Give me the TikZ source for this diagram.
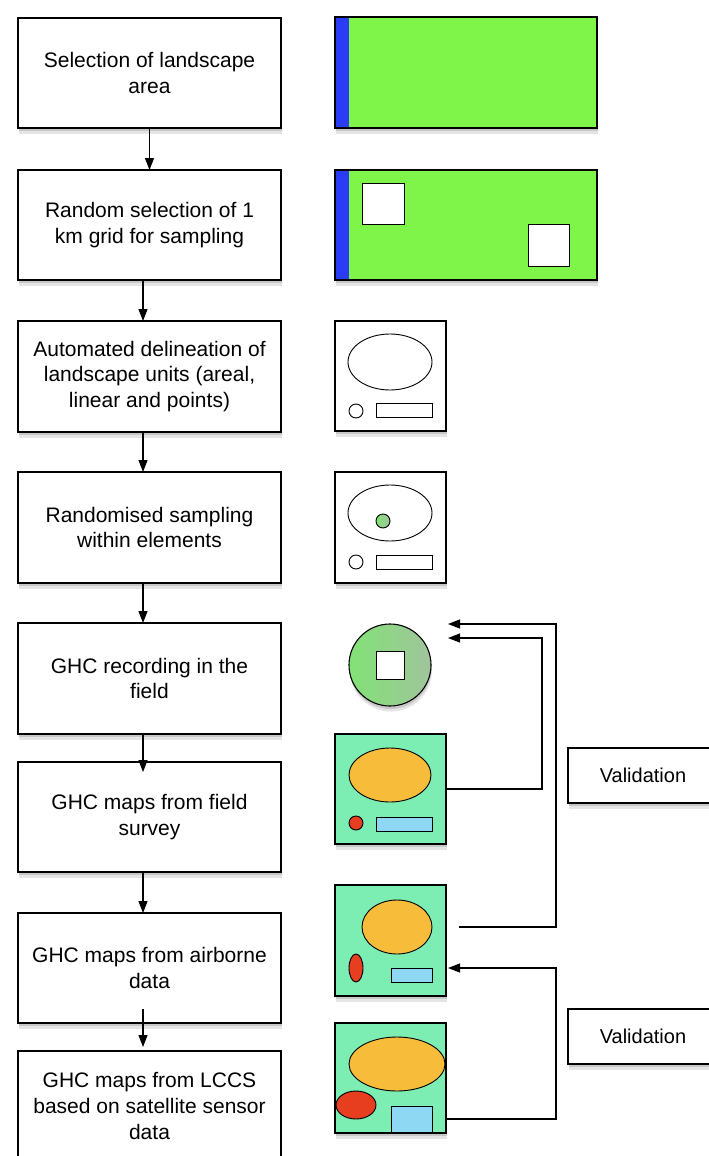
\documentclass[tikz,border=0pt]{standalone}
\usepackage{fontspec}
\setmainfont{Liberation Sans}
\usetikzlibrary{arrows.meta}
\definecolor{lime}{RGB}{126,245,72}
\definecolor{stripblue}{RGB}{42,60,245}
\definecolor{aqua}{RGB}{124,238,180}
\definecolor{orng}{RGB}{246,188,58}
\definecolor{redd}{RGB}{230,62,30}
\definecolor{lblue}{RGB}{142,216,244}
\definecolor{greyg}{RGB}{160,196,156}
\definecolor{leafg}{RGB}{130,226,118}
\tikzset{
  shad/.style={
    preaction={draw=none,fill=black!10,transform canvas={xshift=1pt,yshift=-5.5pt}},
    preaction={draw=none,fill=black!22,transform canvas={xshift=0.5pt,yshift=-3pt}}},
  stepbox/.style={draw,line width=1.1pt,fill=white,shad,minimum width=263pt,
    minimum height=110pt,align=center,outer sep=0pt,inner sep=0pt,
    font=\fontsize{21}{25.7}\selectfont},
  valbox/.style={draw,line width=1.1pt,fill=white,shad,minimum width=150pt,
    minimum height=55pt,outer sep=0pt,font=\fontsize{20}{24}\selectfont},
  icon/.style={draw,line width=1.1pt,shad,outer sep=0pt,inner sep=0pt},
  thin/.style={line width=0.9pt},
  arr/.style={line width=1.1pt,-{Triangle[length=12pt,width=9pt]}},
}
\begin{document}
\begin{tikzpicture}[x=1pt,y=-1pt]
\useasboundingbox (0,0) rectangle (709,1156);
\clip (0,0) rectangle (709,1156);
\fill[white] (0,0) rectangle (709,1156);

% left column
\node[stepbox] (b1) at (149.5,73) {Selection of landscape\\area};
\node[stepbox] (b2) at (149.5,225) {Random selection of 1\\km grid for sampling};
\node[stepbox,minimum height=111pt] (b3) at (149.5,376.5) {Automated delineation of\\landscape units (areal,\\linear and points)};
\node[stepbox,minimum height=111pt] (b4) at (149.5,527.5) {Randomised sampling\\within elements};
\node[stepbox,minimum height=111pt] (b5) at (149.5,678.5) {GHC recording in the\\field};
\node[stepbox] (b6) at (149.5,817) {GHC maps from field\\survey};
\node[stepbox] (b7) at (149.5,968) {GHC maps from airborne\\data};
\node[stepbox] (b8) at (149.5,1106) {GHC maps from LCCS\\based on satellite sensor\\data};

\draw[arr] (b1.south) -- (b2.north);
\draw[arr] ([xshift=-6.5pt]b2.south) -- ([xshift=-6.5pt]b3.north);
\draw[arr] ([xshift=-6.5pt]b3.south) -- ([xshift=-6.5pt]b4.north);
\draw[arr] ([xshift=-6.5pt]b4.south) -- ([xshift=-6.5pt]b5.north);
\draw[arr] ([xshift=-6.5pt]b5.south) -- ([xshift=-6.5pt,yshift=-10pt]b6.north);
\draw[arr] ([xshift=-6.5pt]b6.south) -- ([xshift=-6.5pt]b7.north);
\draw[arr] ([xshift=-6.5pt,yshift=14pt]b7.south) -- ([xshift=-6.5pt,yshift=4pt]b8.north);

% icon 1 and 2
\node[icon,fill=lime,minimum width=262pt,minimum height=111pt,
  path picture={\fill[stripblue] (path picture bounding box.north west) rectangle ([xshift=14pt]path picture bounding box.south west);}]
  (i1) at (466,72.5) {};
\node[icon,fill=lime,minimum width=262pt,minimum height=110pt,
  path picture={\fill[stripblue] (path picture bounding box.north west) rectangle ([xshift=14pt]path picture bounding box.south west);}]
  (i2) at (466,225) {};
\draw[thin,fill=white] (362,183) rectangle (404,224);
\draw[thin,fill=white] (528,224) rectangle (569,266);

% icon 3
\node[icon,fill=white,minimum width=111pt,minimum height=110pt] (i3) at (390.5,376) {};
\draw[thin] (390,362) ellipse [x radius=42pt,y radius=28pt];
\draw[thin] (356,411) circle [radius=7pt];
\draw[thin] (376,403) rectangle (432,417);

% icon 4
\node[icon,fill=white,minimum width=111pt,minimum height=111pt] (i4) at (390.5,527.5) {};
\draw[thin] (390,513) ellipse [x radius=42pt,y radius=28pt];
\draw[thin,left color=leafg,right color=greyg] (383,521) circle [radius=7pt];
\draw[thin] (356,562) circle [radius=7pt];
\draw[thin] (376,555) rectangle (432,569);

% icon 5
\node[icon,circle,minimum size=82pt,left color=leafg,right color=greyg] (i5) at (390,665) {};
\draw[thin,fill=white] (376,651) rectangle (404,679);

% icon 6
\node[icon,fill=aqua,minimum width=111pt,minimum height=110pt] (i6) at (390.5,789) {};
\draw[thin,fill=orng] (390,775) ellipse [x radius=41pt,y radius=27pt];
\draw[thin,fill=redd] (356,823) circle [radius=7pt];
\draw[thin,fill=lblue] (376,817) rectangle (432,831);

% icon 7
\node[icon,fill=aqua,minimum width=111pt,minimum height=111pt] (i7) at (390.5,940.5) {};
\draw[thin,fill=orng] (397,927) ellipse [x radius=35pt,y radius=27pt];
\draw[thin,fill=redd] (356,968) ellipse [x radius=7pt,y radius=14pt];
\draw[thin,fill=lblue] (391,968) rectangle (432,982);

% icon 8
\node[icon,fill=aqua,minimum width=111pt,minimum height=110pt] (i8) at (390.5,1078) {};
\begin{scope}
\clip (335,1023) rectangle (446,1133);
\draw[thin,fill=orng] (397,1064) ellipse [x radius=48pt,y radius=27pt];
\draw[thin,fill=redd] (356,1105) ellipse [x radius=20pt,y radius=14pt];
\draw[thin,fill=lblue] (391,1106) rectangle (432,1135);
\end{scope}
\draw[line width=1.1pt] (i8.north west) rectangle (i8.south east);

% validation connectors
\coordinate (sA) at (459,927);
\coordinate (tA) at (448,624);
\coordinate (tB) at (448,638);
\draw[arr] (sA) -- ++(97,0) |- (tA);
\draw[arr] (i6.east) -- ++(96,0) |- (tB);
\draw[arr] ([yshift=-41pt]i8.east) -- ++(110,0) |- ([xshift=2pt,yshift=-27.5pt]i7.east);

\node[valbox] (v1) at (643,775.5) {Validation};
\node[valbox] (v2) at (643,1036.5) {Validation};
\end{tikzpicture}
\end{document}
